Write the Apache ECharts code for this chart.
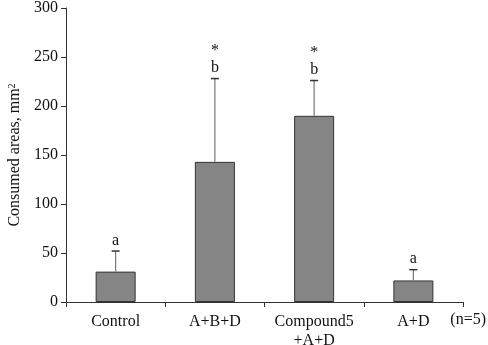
<!DOCTYPE html>
<html>
<head>
<meta charset="utf-8">
<script src="https://cdn.jsdelivr.net/npm/echarts@6/dist/echarts.min.js"></script>
<style>
    html, body { margin:0; padding:0; background:#fff; }
    #chart { width:488px; height:345px; }
</style>
</head>
<body>
<div id="chart"></div>
<script>
// values
const categories = ['Control', 'A+B+D', 'Compound5\n+A+D', 'A+D'];
const meanValues = [31, 143, 190, 22];
const errorTops = [52, 228, 226, 33];
const sigLabels = ['a', '*\nb', '*\nb', 'a'];
const yTicks = [0, 50, 100, 150, 200, 250, 300];

const myChart = echarts.init(document.getElementById('chart'));
const font = 'Liberation Serif';

let errData = categories.map((c, i) => [i, meanValues[i], errorTops[i]]);

let option = {
    animation:false,
    textStyle:{ fontFamily:font },
    grid:{ left:66, right:25, top:8, bottom:43, containLabel:false, outerBoundsMode:'none' },
    xAxis:{
        type:'category',
        data:categories,
        axisLine:{ lineStyle:{ color:'#333', width:1 } },
        axisTick:{ show:true, interval:0, length:5, lineStyle:{ color:'#333' } },
        axisLabel:{ color:'#111', fontSize:16, fontFamily:font, margin:10, interval:0, lineHeight:19 }
    },
    yAxis:{
        type:'value',
        min:yTicks[0],
        max:yTicks[yTicks.length - 1],
        interval:50,
        name:'{a|Consumed areas, mm}{s|2}',
        nameLocation:'middle',
        nameGap:43,
        nameTextStyle:{
            color:'#111', fontSize:16, fontFamily:font,
            rich:{
                a:{ fontSize:16, fontFamily:font, color:'#111' },
                s:{ fontSize:10, fontFamily:font, color:'#111', verticalAlign:'top', padding:[0,0,6,0] }
            }
        },
        axisLine:{ show:true, lineStyle:{ color:'#333' } },
        axisTick:{ show:true, length:5, lineStyle:{ color:'#333' } },
        axisLabel:{ color:'#111', fontSize:16, fontFamily:font, margin:8 },
        splitLine:{ show:false }
    },
    series:[
        {
            type:'bar',
            data:meanValues,
            barWidth:40,
            itemStyle:{ color:'#858585', borderColor:'#333', borderWidth:1 },
            z:2
        },
        {
            type:'custom',
            data:errData,
            z:3,
            renderItem:(params, api)=>{
                let base = api.coord([api.value(0), api.value(1)]);
                let top = api.coord([api.value(0), api.value(2)]);
                let label = sigLabels[params.dataIndex];
                return {
                    type:'group',
                    children:[
                        { type:'line', shape:{ x1:base[0], y1:base[1], x2:top[0], y2:top[1] }, style:{ stroke:'#777', lineWidth:1.2 } },
                        { type:'line', shape:{ x1:top[0] - 4, y1:top[1], x2:top[0] + 4, y2:top[1] }, style:{ stroke:'#333', lineWidth:1.5 } },
                        { type:'text', x:top[0], y:top[1] - 2, style:{
                            text:label, fill:'#111', font:'16px "Liberation Serif"',
                            align:'center', verticalAlign:'bottom', lineHeight:17
                        } }
                    ]
                };
            }
        }
    ],
    graphic:[
        { type:'text', right:2, top:312, style:{ text:'(n=5)', fill:'#111', font:'16px "Liberation Serif"' } }
    ]
};
myChart.setOption(option);
</script>
</body>
</html>
